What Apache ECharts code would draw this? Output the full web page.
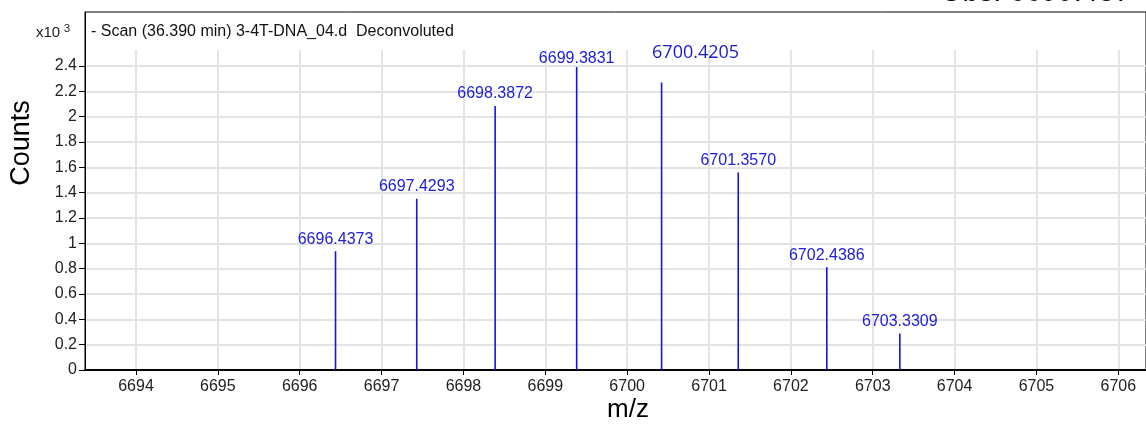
<!DOCTYPE html>
<html><head><meta charset="utf-8">
<script src="https://cdn.jsdelivr.net/npm/echarts@6/dist/echarts.min.js"></script>
<style>html,body{margin:0;padding:0;background:#fff}#c{width:1146px;height:424px}</style>
</head><body><div id="c"></div>
<script>
// ---- data ----
const peakMz = [6696.4373, 6697.4293, 6698.3872, 6699.3831, 6700.4205, 6701.3570, 6702.4386, 6703.3309];
const peakCounts = [938, 1352, 2084, 2392, 2269, 1560, 812, 289];
const xTicks = [6694, 6695, 6696, 6697, 6698, 6699, 6700, 6701, 6702, 6703, 6704, 6705, 6706];
const yTicks = [0, 200, 400, 600, 800, 1000, 1200, 1400, 1600, 1800, 2000, 2200, 2400];
const titleText = '- Scan (36.390 min) 3-4T-DNA_04.d  Deconvoluted';
const obsText = 'Obs. 6699.437';
const yAxisTitle = 'Counts';
const xAxisTitle = 'm/z';

// ---- styling ----
const FONT = 'Liberation Sans, Arial, sans-serif';
const BLUE = '#1414e0';
const labelOverrides = {
  3: { distance: 0 },
  4: { distance: 21, offset: [34, 0], fontFamily: 'Open Sans, sans-serif', fontSize: 18, color: '#1a1ad0' }
};

const seriesData = peakMz.map((mz, i) => {
  const item = { value: [mz, peakCounts[i]] };
  if (labelOverrides[i]) item.label = labelOverrides[i];
  return item;
});

const chart = echarts.init(document.getElementById('c'), null, { renderer: 'canvas' });
const X_MIN = 6693.377, X_MAX = 6706.338, Y_MAX = 2826;

chart.setOption({
  animation: false,
  backgroundColor: '#fff',
  grid: [
    { left: 85, right: 0, top: 12, bottom: 54, show: true, borderColor: '#000', borderWidth: 1, backgroundColor: 'transparent' },
    { left: 85, right: 0, top: 50, bottom: 54, show: false }
  ],
  xAxis: [
    {
      type: 'value', gridIndex: 0, min: X_MIN, max: X_MAX,
      axisLine: { show: true, onZero: false, lineStyle: { color: '#000', width: 2 } },
      axisTick: { show: true, length: 5, customValues: xTicks, lineStyle: { color: '#000', width: 1 } },
      axisLabel: { show: true, customValues: xTicks, margin: 9, fontFamily: FONT, fontSize: 16, color: '#222',
        formatter: v => String(v) },
      splitLine: { show: false }
    },
    {
      type: 'value', gridIndex: 1, min: X_MIN, max: X_MAX,
      axisLine: { show: false },
      axisTick: { show: false, customValues: xTicks },
      axisLabel: { show: false, customValues: xTicks },
      splitLine: { show: true, lineStyle: { color: '#e3e3e3', width: 2 } }
    }
  ],
  yAxis: [
    {
      type: 'value', gridIndex: 0, min: 0, max: Y_MAX,
      axisLine: { show: true, lineStyle: { color: '#000', width: 1 } },
      axisTick: { show: true, length: 6, customValues: yTicks, lineStyle: { color: '#000', width: 1 } },
      axisLabel: { show: true, customValues: yTicks, margin: 8, fontFamily: FONT, fontSize: 16, color: '#222',
        formatter: v => String(+(v / 1000).toFixed(1)) },
      splitLine: { show: true, lineStyle: { color: '#e3e3e3', width: 2 } }
    },
    {
      type: 'value', gridIndex: 1, min: 0, max: 1, show: false
    }
  ],
  series: [{
    type: 'bar',
    xAxisIndex: 0, yAxisIndex: 0,
    barWidth: 1.6,
    itemStyle: { color: BLUE },
    label: {
      show: true, position: 'top', distance: 4,
      fontFamily: FONT, fontSize: 16, color: '#2020d8',
      formatter: p => p.value[0].toFixed(4)
    },
    data: seriesData,
    z: 5
  }],
  graphic: [
    { type: 'text', x: 91, y: 32, style: { text: titleText, font: '16px ' + FONT, fill: '#111', verticalAlign: 'middle', align: 'left' } },
    { type: 'text', x: 36, y: 33, style: { text: 'x10', font: '15px ' + FONT, fill: '#222', verticalAlign: 'middle', align: 'left' } },
    { type: 'text', x: 64, y: 29, style: { text: '3', font: '11px ' + FONT, fill: '#222', verticalAlign: 'middle', align: 'left' } },
    { type: 'text', x: 22, y: 143, rotation: Math.PI / 2, style: { text: yAxisTitle, font: '27px ' + FONT, fill: '#000', verticalAlign: 'middle', align: 'center' } },
    { type: 'text', x: 628, y: 410, style: { text: xAxisTitle, font: '26px ' + FONT, fill: '#000', verticalAlign: 'middle', align: 'center' } },
    { type: 'text', x: 940, y: -7, style: { text: obsText, font: '29px ' + FONT, fill: '#000', verticalAlign: 'middle', align: 'left' } }
  ]
});
</script>
</body></html>
